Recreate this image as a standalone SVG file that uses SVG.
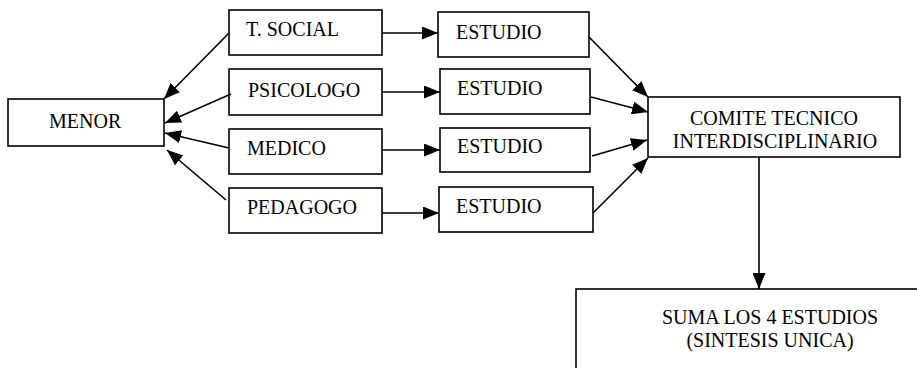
<svg xmlns="http://www.w3.org/2000/svg" width="917" height="368" viewBox="0 0 917 368">
<style>
  .box { fill: #ffffff; stroke: #000000; stroke-width: 1.6; }
  .lbl { font-family: 'Liberation Serif', 'Times New Roman', 'DejaVu Serif', serif; font-size: 20px; fill: #000000; }
  .mid { text-anchor: middle; }
  .edge { stroke: #000000; stroke-width: 1.6; fill: none; marker-end: url(#ah); }
</style>
<defs>
  <marker id="ah" markerUnits="userSpaceOnUse" markerWidth="17" markerHeight="13" refX="16" refY="6.5" orient="auto">
    <path d="M0,0 L16,6.5 L0,13 Z" fill="#000000"/>
  </marker>
</defs>
<rect width="917" height="368" fill="#ffffff"/>

<g id="menor">
  <rect class="box" x="8" y="99" width="156" height="47"/>
  <text class="lbl" x="49" y="128" font-family="Liberation Serif, serif">MENOR</text>
</g>
<g id="tsocial">
  <rect class="box" x="229" y="10" width="153" height="45"/>
  <text class="lbl" x="246" y="36">T. SOCIAL</text>
</g>
<g id="psicologo">
  <rect class="box" x="229" y="69" width="153" height="46"/>
  <text class="lbl" x="248" y="97">PSICOLOGO</text>
</g>
<g id="medico">
  <rect class="box" x="229" y="129" width="153" height="45"/>
  <text class="lbl" x="247" y="155">MEDICO</text>
</g>
<g id="pedagogo">
  <rect class="box" x="229" y="188" width="153" height="45"/>
  <text class="lbl" x="247" y="214">PEDAGOGO</text>
</g>
<g id="estudio1">
  <rect class="box" x="438" y="12" width="151" height="45"/>
  <text class="lbl" x="456" y="39">ESTUDIO</text>
</g>
<g id="estudio2">
  <rect class="box" x="440" y="69" width="150" height="45"/>
  <text class="lbl" x="457" y="95">ESTUDIO</text>
</g>
<g id="estudio3">
  <rect class="box" x="440" y="128" width="150" height="44"/>
  <text class="lbl" x="457" y="153">ESTUDIO</text>
</g>
<g id="estudio4">
  <rect class="box" x="439" y="187" width="154" height="45"/>
  <text class="lbl" x="456" y="213">ESTUDIO</text>
</g>
<g id="comite">
  <rect class="box" x="648" y="97" width="252" height="60"/>
  <text class="lbl mid" x="774" y="125">COMITE TECNICO</text>
  <text class="lbl mid" x="775" y="148">INTERDISCIPLINARIO</text>
</g>
<g id="suma">
  <rect class="box" x="576" y="289" width="380" height="120"/>
  <text class="lbl mid" x="770" y="324">SUMA LOS 4 ESTUDIOS</text>
  <text class="lbl mid" x="770" y="347">(SINTESIS UNICA)</text>
</g>

<g id="connectors">
  <line class="edge" x1="229" y1="33" x2="164" y2="99"/>
  <line class="edge" x1="231" y1="94" x2="165" y2="123"/>
  <line class="edge" x1="229" y1="148" x2="165" y2="133"/>
  <line class="edge" x1="226" y1="200" x2="167" y2="150"/>
  <line class="edge" x1="382" y1="33" x2="438" y2="33"/>
  <line class="edge" x1="382" y1="92" x2="440" y2="92"/>
  <line class="edge" x1="382" y1="150" x2="440" y2="150"/>
  <line class="edge" x1="382" y1="213" x2="439" y2="213"/>
  <line class="edge" x1="589" y1="37" x2="648" y2="97"/>
  <line class="edge" x1="591" y1="97" x2="648" y2="112"/>
  <line class="edge" x1="592" y1="156" x2="647" y2="140"/>
  <line class="edge" x1="593" y1="213" x2="648" y2="158"/>
  <line class="edge" x1="759" y1="157" x2="759" y2="289"/>
</g>
</svg>
